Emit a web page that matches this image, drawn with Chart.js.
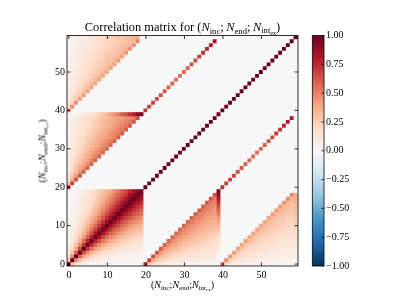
<!DOCTYPE html>
<html>
<head>
<meta charset="utf-8">
<script src="https://cdn.jsdelivr.net/npm/chart.js@4.4.1/dist/chart.umd.min.js"></script>
<style>
  body { margin: 0; background: #fff; }
  #wrap { position: relative; width: 399px; height: 299px; background: #fff; overflow: hidden; }
  canvas { position: absolute; top: 0; }
  .lbl { position: absolute; font-family: 'Liberation Serif', 'Times New Roman', serif; color: #000;
         white-space: nowrap; line-height: 1; text-align: center; }
  .lbl sub { font-size: 70%; vertical-align: -0.3em; line-height: 0; }
  #title { left: 67px; width: 231px; top: 20.5px; font-size: 12.4px; }
  #xlabel { left: 67px; width: 231px; top: 280px; font-size: 10px; }
  #ylabel { left: -73px; width: 231px; top: 146px; height: 10px; font-size: 10px;
            transform: rotate(-90deg); transform-origin: 50% 50%; }
</style>
</head>
<body>
<div id="wrap">
  <canvas id="matrix" width="399" height="299" style="left:0"></canvas>
  <canvas id="cbar" width="99" height="299" style="left:300px"></canvas>
  <div id="title" class="lbl">Correlation matrix for (<i>N</i><sub>inc</sub>;&thinsp;<i>N</i><sub>end</sub>;&thinsp;<i>N</i><sub>int<sub>ex</sub></sub>)</div>
  <div id="xlabel" class="lbl">(<i>N</i><sub>inc</sub>;<i>N</i><sub>end</sub>;<i>N</i><sub>int<sub>ex</sub></sub>)</div>
  <div id="ylabel" class="lbl">(<i>N</i><sub>inc</sub>;<i>N</i><sub>end</sub>;<i>N</i><sub>int<sub>ex</sub></sub>)</div>
</div>
<script>
// correlations in percent, lower triangle rows (row k holds columns j = 0..k)
// N_inc vs N_inc
const incInc = [
  [100],
  [29,100],
  [14,48,100],
  [8,29,60,100],
  [6,19,40,67,100],
  [4,14,29,48,72,100],
  [3,10,22,36,55,76,100],
  [2,8,17,29,43,60,79,100],
  [2,7,14,23,35,48,64,81,100],
  [2,6,11,19,29,40,53,67,83,100],
  [1,5,10,16,24,34,44,56,70,84,100],
  [1,4,8,14,21,29,38,48,60,72,86,100],
  [1,3,7,12,18,25,33,42,52,62,74,87,100],
  [1,3,6,10,16,22,29,36,45,55,65,76,88,100],
  [1,3,6,9,14,19,25,32,40,48,57,67,77,88,100],
  [1,2,5,8,12,17,23,29,35,43,51,60,69,79,89,100],
  [1,2,4,7,11,15,20,26,32,38,46,53,62,71,80,90,100],
  [1,2,4,7,10,14,18,23,29,35,41,48,56,64,72,81,90,100],
  [1,2,4,6,9,13,17,21,26,31,37,44,51,58,65,73,82,91,100],
  [1,2,3,6,8,11,15,19,24,29,34,40,46,53,60,67,75,83,91,100]
];
// N_end[k] vs N_inc[j]
const endInc = [
  [75],
  [28,68],
  [18,37,64],
  [14,28,41,62],
  [11,22,33,44,60],
  [9,18,28,37,46,59],
  [8,16,24,31,39,47,58],
  [7,14,21,28,34,41,48,58],
  [6,12,18,24,31,37,43,49,58],
  [6,11,17,22,28,33,39,44,50,58],
  [5,10,15,20,25,30,35,40,45,50,58],
  [5,9,14,18,23,28,32,37,41,46,50,58],
  [4,8,13,17,21,25,30,34,38,42,47,51,59],
  [4,8,12,16,20,24,28,31,35,39,43,47,51,60],
  [4,7,11,15,18,22,26,29,33,37,40,44,48,51,60],
  [3,7,10,14,17,21,24,28,31,34,38,41,45,48,52,61],
  [3,6,10,13,16,19,23,26,29,32,36,39,42,45,49,52,62],
  [3,6,9,12,15,18,21,24,28,31,34,37,40,43,46,49,52,63],
  [3,6,9,12,14,17,20,23,26,29,32,35,38,41,43,46,49,52,64],
  [1,2,3,6,8,11,15,18,23,28,33,39,45,51,58,65,73,81,88,96]
];
// N_int_ex[k] vs N_inc[j]
const intexInc = [
  [55],
  [18,48],
  [12,23,45],
  [9,18,26,43],
  [7,14,21,28,42],
  [6,12,18,23,29,41],
  [5,10,15,20,25,30,41],
  [4,9,13,18,22,26,31,40],
  [4,8,12,16,19,23,27,31,40],
  [4,7,11,14,18,21,25,28,32,40],
  [3,6,10,13,16,19,22,25,29,32,40],
  [3,6,9,12,15,18,20,23,26,29,32,41],
  [3,5,8,11,13,16,19,22,24,27,30,32,41],
  [3,5,8,10,13,15,18,20,23,25,28,30,33,42],
  [2,5,7,9,12,14,16,19,21,23,26,28,30,33,43],
  [2,4,7,9,11,13,15,18,20,22,24,26,28,31,33,44],
  [2,4,6,8,10,12,14,16,19,21,23,25,27,29,31,33,45],
  [2,4,6,8,10,12,14,16,18,19,21,23,25,27,29,31,33,47],
  [2,4,6,7,9,11,13,15,17,18,20,22,24,26,28,29,31,33,48],
  [2,4,6,8,10,12,14,16,18,20,22,24,26,28,30,32,34,36,38]
];
// N_end[k] vs N_int_ex[k]
const endIntex = [72,70,68,66,64,62,60,58,57,57,58,60,63,66,70,73,77,80,83];

const tickValues = [0, 10, 20, 30, 40, 50];
const colorbarRange = [-1, 1];
const colorbarTicks = [-1, -0.75, -0.5, -0.25, 0, 0.25, 0.5, 0.75, 1];

// RdBu_r, from -1 to +1
const cmap = ['#053061','#2166ac','#4393c3','#92c5de','#d1e5f0','#f7f7f7',
              '#fddbc7','#f4a582','#d6604d','#b2182b','#67001f'];

function hexRgb(h) {
    return [1, 3, 5].map(i => parseInt(h.substr(i, 2), 16));
}
function colorFor(v) {
    const t = Math.max(0, Math.min(1, (v + 1) / 2)) * (cmap.length - 1);
    const i = Math.min(Math.floor(t), cmap.length - 2);
    const f = t - i;
    const a = hexRgb(cmap[i]), b = hexRgb(cmap[i + 1]);
    const c = a.map((x, k) => Math.round(x + (b[k] - x) * f));
    return `rgb(${c[0]},${c[1]},${c[2]})`;
}

// assemble the symmetric 60x60 matrix
const N = incInc.length;
const SIZE = 3 * N;
const matrix = Array.from({length: SIZE}, () => new Array(SIZE).fill(0));
function put(r, c, v) {
    matrix[r][c] = v / 100;
    matrix[c][r] = v / 100;
}
incInc.forEach((row, k) => row.forEach((v, j) => put(k, j, v)));
endInc.forEach((row, k) => row.forEach((v, j) => put(N + k, j, v)));
intexInc.forEach((row, k) => row.forEach((v, j) => put(2 * N + k, j, v)));
endIntex.forEach((v, k) => put(2 * N + k, N + k, v));
for (let i = 0; i < SIZE; i++) matrix[i][i] = 1;

Chart.defaults.font.family = "'Liberation Serif', 'Times New Roman', serif";
Chart.defaults.font.size = 10;
Chart.defaults.color = '#000';

// axes frame with inward ticks (matplotlib style)
const framePlugin = {
    id: 'frame',
    afterDraw(chart, args, opts) {
        const {ctx, chartArea: a} = chart;
        const len = opts.len || 3.5;
        ctx.save();
        ctx.strokeStyle = '#000';
        ctx.lineWidth = 0.8;
        ctx.strokeRect(a.left, a.top, a.right - a.left, a.bottom - a.top);
        ctx.beginPath();
        Object.values(chart.scales).forEach(s => {
            if (!s.options.display) return;
            s.ticks.forEach(t => {
                const p = s.getPixelForValue(t.value);
                if (s.isHorizontal()) {
                    ctx.moveTo(p, a.bottom); ctx.lineTo(p, a.bottom - len);
                    ctx.moveTo(p, a.top); ctx.lineTo(p, a.top + len);
                } else {
                    if (opts.left) { ctx.moveTo(a.left, p); ctx.lineTo(a.left + len, p); }
                    ctx.moveTo(a.right, p); ctx.lineTo(a.right - len, p);
                }
            });
        });
        ctx.stroke();
        ctx.restore();
    }
};

// each row is one dataset of floating bars. Chart.js paints the last dataset
// first, so every row reaches a bit below itself and the row under it, painted
// later, covers that part: no anti-aliasing seams between cells.
const datasets = matrix.map((row, i) => ({
    data: row.map((v, j) => ({x: j, y: [i - 0.8, i + 0.5]})),
    backgroundColor: row.map(colorFor),
    borderWidth: 0,
    grouped: false,
    barPercentage: 1.3,
    categoryPercentage: 1,
    clip: 0
}));

new Chart(document.getElementById('matrix'), {
    type: 'bar',
    data: {datasets},
    options: {
        responsive: false,
        animation: false,
        events: [],
        layout: {padding: {left: 0, right: 101, top: 35.5, bottom: 0}},
        plugins: {
            legend: {display: false},
            tooltip: {enabled: false},
            frame: {left: true, len: 3.5}
        },
        scales: {
            x: {
                type: 'linear', offset: false, min: -0.5, max: SIZE - 0.5,
                grid: {display: false, drawTicks: false},
                border: {display: false},
                afterBuildTicks: s => { s.ticks = tickValues.map(v => ({value: v})); },
                afterFit: s => { s.height = 33; },
                ticks: {padding: 3, maxRotation: 0}
            },
            y: {
                type: 'linear', stacked: false, min: -0.5, max: SIZE - 0.5,
                grid: {display: false, drawTicks: false},
                border: {display: false},
                afterBuildTicks: s => { s.ticks = tickValues.map(v => ({value: v})); },
                afterFit: s => { s.width = 67; },
                ticks: {padding: 2}
            }
        }
    },
    plugins: [framePlugin]
});

new Chart(document.getElementById('cbar'), {
    type: 'bar',
    data: {
        labels: [''],
        datasets: [{
            data: [colorbarRange],
            borderWidth: 0,
            barPercentage: 1,
            categoryPercentage: 1,
            backgroundColor(ctx) {
                const a = ctx.chart.chartArea;
                if (!a) return cmap[5];
                const g = ctx.chart.ctx.createLinearGradient(0, a.bottom, 0, a.top);
                cmap.forEach((c, i) => g.addColorStop(i / (cmap.length - 1), c));
                return g;
            }
        }]
    },
    options: {
        responsive: false,
        animation: false,
        events: [],
        layout: {padding: {left: 12.3, right: 0, top: 35.5, bottom: 33}},
        plugins: {
            legend: {display: false},
            tooltip: {enabled: false},
            frame: {left: false, len: 2.5}
        },
        scales: {
            x: {display: false},
            y: {
                position: 'right', min: colorbarRange[0], max: colorbarRange[1],
                grid: {display: false, drawTicks: false},
                border: {display: false},
                afterBuildTicks: s => { s.ticks = colorbarTicks.map(v => ({value: v})); },
                afterFit: s => { s.width = 75; },
                ticks: {
                    padding: 2,
                    callback: v => v.toFixed(2).replace('-', '\u2212')
                }
            }
        }
    },
    plugins: [framePlugin]
});
</script>
</body>
</html>
